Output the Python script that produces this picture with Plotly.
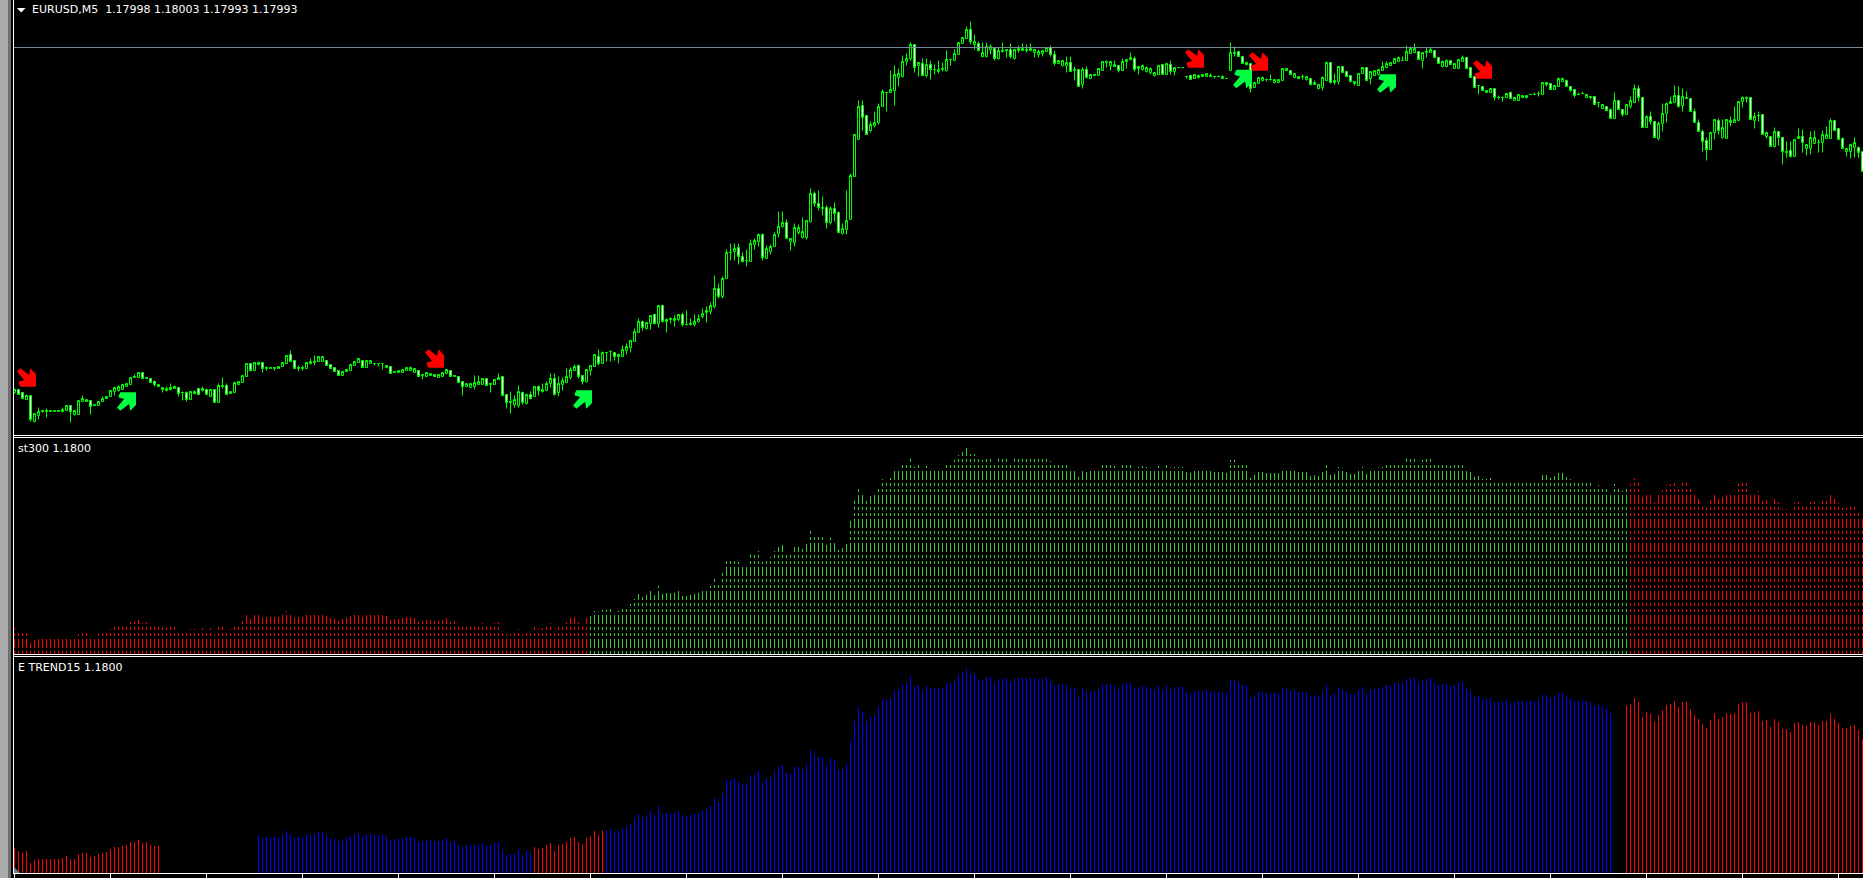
import plotly.graph_objects as go

W, H = 1863, 878

# Chart values. Price values are expressed in chart points above the lower pane edge.
body_top = [
46,46,43,40,40,22,24,25,25,25, 25,25,26,30,30,25,35,37,36,35,
31,34,37,39,45,48,49,51,52,58, 59,63,63,58,57,54,51,48,47,48,
49,48,43,43,44,44,47,47,46,46, 46,50,50,50,44,53,54,60,72,72,
73,73,73,68,68,68,69,73,80,81, 75,68,68,73,74,74,79,79,75,71,
68,65,64,66,71,74,77,75,75,75, 72,72,72,70,69,64,65,66,68,68,
67,65,61,63,62,61,61,63,66,65, 60,59,54,52,52,53,54,57,57,52,
56,58,59,41,34,36,44,43,41,41, 49,49,46,52,57,57,52,55,59,66,
69,70,60,66,70,81,79,83,83,84, 83,81,86,89,95,104,114,114,113,120,
121,130,130,116,117,117,121,121,111,112, 114,117,122,125,130,147,147,157,183,183,
187,188,179,175,192,195,201,201,187,189, 201,209,213,213,197,208,208,204,215,242,
242,232,228,228,227,227,223,207,215,260, 301,329,330,320,311,313,329,344,343,346,
361,362,374,377,391,391,373,372,371,371, 366,366,367,376,376,382,393,398,406,406,
394,392,383,389,389,387,385,385,386,386, 386,387,387,386,387,386,384,385,388,388,
381,375,375,373,373,366,366,366,366,361, 361,367,374,374,374,371,370,374,376,378,
377,369,370,368,367,363,370,371,372,371, 368,368,368,359,360,361,360,361,362,360,
359,359,359,357,383,383,384,379,373,372, 353,358,358,356,356,356,356,367,367,365,
362,359,359,359,357,353,351,358,373,373, 355,369,369,364,360,354,362,368,368,364,
365,366,369,372,373,377,378,375,384,387, 387,384,383,384,386,385,378,374,375,375,
372,376,378,378,368,359,350,349,345,347, 347,338,338,342,343,338,341,340,340,341,
341,342,353,353,352,350,357,357,355,349, 346,341,342,341,339,339,333,331,329,326,
335,335,326,331,335,347,347,338,319,319, 314,312,322,332,334,340,340,339,338,337,
324,313,304,295,303,316,315,308,316,315, 316,334,338,338,338,319,320,321,303,299,
304,304,298,284,285,296,299,299,291,298, 298,293,301,301,315,315,307,297,287,291,
293,288,284]

body_bot = [
43,41,37,36,16,14,20,24,24,24, 24,24,24,25,24,21,21,34,34,29,
30,30,34,37,39,44,45,46,49,51, 58,58,57,57,53,51,49,46,45,46,
47,42,43,36,36,42,41,45,41,39, 33,33,49,41,42,43,51,53,59,65,
65,71,67,67,67,67,67,69,72,74, 67,67,67,67,72,73,74,74,70,67,
64,60,60,64,65,70,73,68,68,72, 72,72,72,68,62,63,63,63,65,65,
63,59,60,59,60,59,58,59,62,59, 59,53,49,49,48,49,51,51,50,51,
51,56,40,33,33,31,30,33,32,37, 39,45,44,45,52,41,43,51,53,58,
65,59,54,54,65,69,72,72,83,84, 79,79,79,85,88,94,103,108,107,112,
112,112,114,114,116,115,116,111,111,111, 111,114,119,123,124,129,139,139,157,183,
184,179,174,175,174,191,194,178,177,184, 189,202,209,197,194,193,203,198,198,214,
232,228,227,213,213,222,203,202,206,216, 259,296,318,301,305,310,313,329,343,343,
345,358,359,374,377,368,370,360,360,366, 366,364,366,365,376,375,381,392,397,394,
391,385,379,379,386,377,377,384,385,379, 377,385,385,385,385,383,381,382,384,381,
372,372,370,370,364,365,349,351,358,357, 360,360,365,373,370,369,365,365,374,376,
366,367,366,364,363,360,361,361,361,364, 364,368,368,359,356,357,358,359,359,359,
359,359,357,357,365,382,379,372,371,347, 348,352,355,356,356,353,353,355,365,361,
358,357,359,356,351,351,347,348,355,353, 353,354,363,359,354,352,350,362,355,357,
360,361,365,368,370,372,374,375,375,382, 383,376,375,383,383,378,372,369,369,371,
367,367,374,367,358,348,350,345,343,343, 338,338,338,338,337,335,335,338,338,341,
341,342,341,351,346,346,349,354,349,345, 340,341,342,338,338,331,333,327,325,317,
317,326,321,321,329,333,338,308,308,314, 298,297,312,322,332,333,329,330,337,324,
313,304,294,286,286,303,305,298,297,313, 313,315,334,337,316,315,320,301,299,289,
289,298,284,283,279,279,297,293,287,287, 292,293,293,297,297,305,296,287,284,284,
288,283,264]

high = [
47,46,43,41,40,22,28,25,27,25, 25,25,28,30,30,25,35,40,36,35,
31,34,39,39,45,48,50,51,52,58, 61,63,63,58,57,55,51,48,49,52,
50,48,44,44,44,45,47,49,46,46, 46,52,58,52,44,53,54,60,72,72,
73,74,73,69,68,68,69,73,80,85, 75,70,70,73,77,80,79,79,75,71,
68,65,64,66,71,74,77,75,75,75, 72,72,72,70,69,64,65,66,68,69,
67,65,61,63,62,61,61,63,66,65, 60,59,54,52,52,60,60,57,57,52,
56,62,59,41,44,40,50,44,42,44, 49,50,52,54,62,62,59,58,67,68,
71,71,60,66,70,81,86,84,83,85, 83,82,90,92,95,107,117,115,113,120,
122,130,131,117,118,120,121,123,125,117, 121,121,127,129,133,160,152,159,186,192,
192,192,183,186,196,197,202,202,190,191, 203,224,224,216,197,212,211,218,215,247,
244,245,239,230,229,233,224,212,245,262, 301,335,335,320,314,324,332,346,343,365,
370,367,380,382,393,391,373,377,377,375, 371,375,373,385,377,386,393,398,409,414,
401,394,393,393,391,387,388,393,386,392, 386,390,392,391,392,386,386,385,388,390,
385,375,375,379,379,369,366,368,369,361, 361,367,374,375,374,375,370,377,376,383,
379,369,371,369,368,363,370,371,372,375, 368,368,368,359,360,361,361,361,362,362,
359,360,360,357,393,389,384,379,374,372, 353,358,359,357,361,356,356,367,367,365,
362,359,361,359,357,355,351,359,374,373, 362,369,369,364,360,354,362,368,368,364,
365,366,374,374,373,377,379,379,390,389, 392,384,383,388,388,385,378,375,376,375,
372,376,380,378,368,359,350,349,345,347, 347,340,339,342,344,338,341,340,340,341,
343,344,353,353,352,350,358,358,356,349, 346,343,344,341,339,339,333,331,329,327,
343,335,326,331,339,351,350,338,320,324, 314,314,332,333,339,350,349,347,344,337,
327,316,306,298,303,316,317,316,316,319, 329,334,339,339,338,323,324,321,304,299,
308,304,298,294,294,296,307,306,291,304, 305,296,305,309,317,315,307,298,287,291,
298,289,284]

low = [
42,41,37,36,14,13,16,23,18,24, 24,24,23,25,13,20,21,34,34,21,
30,30,34,37,39,40,44,46,49,51, 58,58,57,57,53,49,49,43,44,45,
47,39,35,34,36,41,41,44,41,39, 33,33,47,41,42,43,51,53,59,64,
65,70,63,65,67,65,67,69,72,74, 67,64,65,67,71,70,74,74,70,67,
64,60,60,64,65,70,73,68,68,72, 70,69,66,68,62,63,63,63,65,65,
63,59,56,59,60,59,58,59,62,59, 59,53,40,49,48,46,51,51,50,43,
51,56,40,27,22,28,28,31,31,36, 39,40,43,45,48,40,39,45,53,56,
65,57,51,53,60,69,70,72,74,74, 75,72,79,81,83,94,103,105,106,106,
111,108,113,103,112,109,114,109,110,110, 109,113,117,113,121,127,137,137,157,175,
175,171,173,169,174,186,189,175,177,181, 189,198,208,197,185,189,201,197,196,213,
229,225,220,207,211,214,203,201,201,216, 259,296,305,301,303,308,311,329,324,343,
330,349,358,370,375,363,359,360,358,356, 361,362,364,364,370,375,381,392,397,391,
386,384,378,378,381,375,376,383,378,377, 376,383,385,383,385,378,378,379,384,379,
370,372,369,363,364,355,349,347,357,357, 359,360,365,368,365,369,363,365,367,376,
364,361,365,363,361,359,361,361,361,361, 360,368,368,357,356,357,357,359,359,359,
357,359,357,357,365,379,379,372,370,343, 348,352,354,354,355,352,353,355,365,361,
358,356,356,355,350,351,346,345,355,352, 351,351,363,358,353,350,350,362,355,351,
360,360,365,368,370,372,374,375,375,382, 383,376,367,378,383,378,372,368,368,371,
367,367,374,367,358,348,341,345,343,343, 335,336,334,338,337,335,335,338,337,341,
341,339,341,349,346,346,349,354,349,344, 338,341,342,338,336,331,328,327,325,317,
317,326,319,321,327,333,334,308,308,311, 298,295,304,313,332,333,328,324,337,324,
313,304,284,275,286,296,301,297,297,309, 313,315,328,333,316,307,314,301,297,289,
288,290,271,278,278,279,297,283,280,281, 292,283,283,297,297,305,296,287,279,277,
278,278,264]

# Bars with a white (falling) body
falling_bars = [1,2,4,14,19,32,34,35,41,43,46,48,50,53,59,62,69,70,78,79,80,81,87,94,101,109,111,112,118,122,123,
127,129,131,135,141,142,146,150,157,160,162,167,176,181,182,187,193,200,201,203,205,206,212,213,225,227,229,239,
241,245,249,259,260,264,266,268,276,280,287,289,294,306,307,309,318,319,324,329,332,333,334,338,351,355,356,359,
363,364,365,367,370,374,384,388,389,390,395,398,399,401,402,406,407,409,410,416,419,420,421,422,423,426,434,437,
439,441,442,444,447,455,456,457,461,462]

# Signal arrows: bar number and price level of the arrow centre
down_arrow_bars = [3, 105, 295, 311, 367]
down_arrow_levels = [58, 77, 377, 374, 366]
up_arrow_bars = [28, 142, 307, 343]
up_arrow_levels = [34, 36, 356.5, 352]

bid_level = 388
tick_bars = [0,24,48,72,96,120,144,168,192,216,240,264,288,312,336,360,384,408,432,456]

# Indicator colour runs (first bar, last bar, colour)
st300_runs = [(0, 143, "#FF0000"), (144, 403, "#32CD32"), (404, 462, "#FF0000")]
trend_runs = [(0, 36, "#FF0000"), (61, 129, "#0000FF"), (130, 147, "#FF0000"), (148, 399, "#0000FF"), (403, 462, "#FF0000")]

# st300 price bands in which a column is drawn
st300_bands = [(-6,0),(6,24),(30,36),(42,48),(54,72),(78,84),(90,96),(102,120),(126,132),(138,144),(150,168),
(174,180),(186,192),(198,216),(222,228),(234,240),(246,264),(270,276),(282,288),(294,312),(318,324),(330,336),
(342,360),(366,372),(378,384),(390,408),(414,420),(426,432)]

# Pane floors in price units
st300_floor = -6
trend_floor = -4

falling = set(falling_bars)
bars = list(range(len(body_top)))
open_ = [body_top[i] if i in falling else body_bot[i] for i in bars]
close = [body_bot[i] if i in falling else body_top[i] for i in bars]

x_range = [-0.125, (W - 14.5) / 4]

fig = go.Figure()
fig.add_trace(go.Candlestick(
    x=bars, open=open_, high=high, low=low, close=close,
    xaxis="x", yaxis="y", whiskerwidth=0, hoverinfo="skip", showlegend=False,
    increasing=dict(line=dict(color="#00FF00", width=1), fillcolor="#000000"),
    decreasing=dict(line=dict(color="#00FF00", width=1), fillcolor="#FFFFFF"),
))

for first, last, colour in st300_runs:
    xs, ys = [], []
    for i in range(first, last + 1):
        for lo, hi in st300_bands:
            if close[i] > lo:
                xs += [i, i, None]
                ys += [lo, min(close[i], hi), None]
    fig.add_trace(go.Scatter(x=xs, y=ys, mode="lines", xaxis="x2", yaxis="y2", showlegend=False,
                             hoverinfo="skip", line=dict(color=colour, width=1, simplify=False)))

for first, last, colour in trend_runs:
    xs, ys = [], []
    for i in range(first, last + 1):
        xs += [i, i, None]
        ys += [trend_floor, close[i], None]
    fig.add_trace(go.Scatter(x=xs, y=ys, mode="lines", xaxis="x3", yaxis="y3", showlegend=False,
                             hoverinfo="skip", line=dict(color=colour, width=1, simplify=False)))


def px_to_x(x):
    return x / W


def px_to_y(y):
    return 1 - y / H


def rect(x0, y0, x1, y1, colour):
    return dict(type="rect", xref="paper", yref="paper", x0=px_to_x(x0), x1=px_to_x(x1),
                y0=px_to_y(y0), y1=px_to_y(y1), fillcolor=colour, line=dict(width=0), layer="above")


def hline(y, colour):
    return dict(type="line", xref="paper", yref="paper", x0=px_to_x(14), x1=1, y0=px_to_y(y), y1=px_to_y(y),
                line=dict(color=colour, width=1), layer="above")


def poly(points, colour):
    p = "M" + " L".join(f"{px_to_x(a):.5f},{px_to_y(b):.5f}" for a, b in points) + " Z"
    return dict(type="path", xref="paper", yref="paper", path=p, fillcolor=colour, line=dict(width=0), layer="above")


ARROW = [(-6.2, 9.25), (-9.5, 6), (-2.4, -2.6), (-7.8, -4), (-7.8, -5.8), (-6.2, -9.25), (9.5, -9.25),
         (9.5, 3.5), (3.8, 9.25), (2.6, 2.4)]


def arrow(bar, level, colour, flip):
    sign = -1 if flip else 1
    pts = [(dx, sign * dy) for dx, dy in ARROW]
    p = "M" + " L".join(f"{dx},{dy}" for dx, dy in pts) + " Z"
    return dict(type="path", xref="x", yref="y", xsizemode="pixel", ysizemode="pixel",
                xanchor=bar, yanchor=level, path=p, fillcolor=colour, line=dict(width=0), layer="above")


shapes = [
    rect(0, 0, 8, H, "#ABABAB"),
    rect(8, 0, 11, H, "#6E6E6E"),
    rect(11, 0, 13, H, "#000000"),
    rect(13, 0, 14, 874, "#FFFFFF"),
    hline(435.5, "#FFFFFF"),
    hline(437.5, "#FFFFFF"),
    hline(654.5, "#FFFFFF"),
    hline(656.5, "#FFFFFF"),
    dict(type="line", xref="paper", yref="y", x0=px_to_x(14), x1=1, y0=bid_level, y1=bid_level,
         line=dict(color="#778899", width=1), layer="above"),
    poly([(17, 8), (25.5, 8), (21.2, 12.5)], "#FFFFFF"),
    poly([(14, 867), (20, 873), (14, 873)], "#708090"),
]
shapes += [arrow(b, l, "#FF0000", False) for b, l in zip(down_arrow_bars, down_arrow_levels)]
shapes += [arrow(b, l, "#00FF40", True) for b, l in zip(up_arrow_bars, up_arrow_levels)]

FONT = dict(family="DejaVu Sans", size=11, color="#FFFFFF")
NB = "\u00a0"


def label(text, x, y):
    return dict(text=text, xref="paper", yref="paper", x=px_to_x(x), y=px_to_y(y), xanchor="left",
                yanchor="middle", showarrow=False, font=FONT, xshift=0, align="left", borderpad=0)


annotations = [
    label(f"EURUSD,M5{NB}{NB}1.17998 1.18003 1.17993 1.17993", 31, 9),
    label("st300 1.1800", 17, 448),
    label("E TREND15 1.1800", 17, 667),
]

hidden = dict(visible=False, fixedrange=True)
x_dom = [px_to_x(14), 1]
fig.update_layout(
    width=W, height=H, autosize=False,
    margin=dict(l=0, r=0, t=0, b=0, pad=0),
    paper_bgcolor="#000000", plot_bgcolor="#000000",
    showlegend=False, boxgap=0.5, boxgroupgap=0, hovermode=False,
    shapes=shapes, annotations=annotations,
    xaxis=dict(domain=x_dom, range=x_range, anchor="y", rangeslider=dict(visible=False), **hidden),
    xaxis2=dict(domain=x_dom, range=x_range, anchor="y2", **hidden),
    xaxis3=dict(domain=x_dom, range=x_range, anchor="y3", fixedrange=True, showgrid=False, zeroline=False,
                showticklabels=False, showline=True, linecolor="#FFFFFF", linewidth=1,
                tickmode="array", tickvals=tick_bars, ticks="outside", ticklen=5, tickwidth=1, tickcolor="#FFFFFF"),
    yaxis=dict(domain=[px_to_y(435), 1], range=[0.5, 435.5], anchor="x", **hidden),
    yaxis2=dict(domain=[px_to_y(654), px_to_y(438)], range=[st300_floor, 426], anchor="x2", **hidden),
    yaxis3=dict(domain=[px_to_y(873), px_to_y(657)], range=[trend_floor, 428], anchor="x3", **hidden),
)

page_style = ("var s=document.createElement('style');"
              "s.textContent='body{margin:0}html{overflow:hidden}.scatterlayer path.js-line{shape-rendering:crispEdges}';"
              "document.head.appendChild(s);")
fig.write_html("out.html", config=dict(displayModeBar=False, staticPlot=True), post_script=page_style)
